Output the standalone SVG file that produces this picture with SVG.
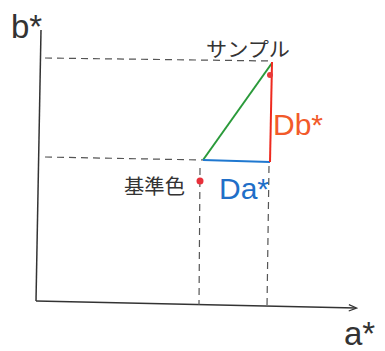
<svg xmlns="http://www.w3.org/2000/svg" width="385" height="351" viewBox="0 0 385 351">
<style>
.axis{stroke:#333;stroke-width:1.5;fill:none}
.dash{stroke:#555;stroke-width:1.2;stroke-dasharray:7,5;fill:none}
.lbl{font-family:"Liberation Sans","Noto Sans CJK JP",sans-serif;fill:#333}
.jp{font-family:"Noto Sans CJK JP",sans-serif;fill:#333}
</style>
<defs>
<marker id="arr" viewBox="0 0 10 10" refX="9" refY="5" markerWidth="10" markerHeight="8" orient="auto" markerUnits="userSpaceOnUse">
<path d="M0,1 L10,5 L0,9" fill="none" stroke="#333" stroke-width="1.5"/>
</marker>
</defs>
<rect width="385" height="351" fill="#fff"/>
<g id="connectors">
<path class="axis" d="M41,30 L36,301"/>
<path class="axis" d="M36,301 L356,308" marker-end="url(#arr)"/>
<path class="dash" d="M45,58 L272,61"/>
<path class="dash" d="M45,157 L203,160"/>
<path class="dash" d="M200,168 L199,305"/>
<path class="dash" d="M269,166 L267,307"/>
<path d="M203,160 L272,63" stroke="#2a9a3a" stroke-width="2" fill="none"/>
<path d="M203,160 L270,162" stroke="#1f78d0" stroke-width="2" fill="none"/>
<path d="M272,62 L270,162" stroke="#ee2a1f" stroke-width="2" fill="none"/>
</g>
<g id="sample">
<circle cx="270" cy="75" r="3" fill="#e83a3a"/>
<text class="jp" x="206" y="57" font-size="20" textLength="84" lengthAdjust="spacingAndGlyphs">サンプル</text>
</g>
<g id="reference">
<circle cx="200" cy="181" r="3.5" fill="#e8303a"/>
<text class="jp" x="124" y="194" font-size="20" textLength="61" lengthAdjust="spacingAndGlyphs">基準色</text>
</g>
<g id="labels">
<text class="lbl" x="11" y="38" font-size="33">b*</text>
<text class="lbl" x="344" y="345" font-size="33">a*</text>
<text x="273" y="135" font-size="30" font-family="Liberation Sans,sans-serif" fill="#f25a2a">Db*</text>
<text x="219" y="199" font-size="30" font-family="Liberation Sans,sans-serif" fill="#1f6fc8">Da*</text>
</g>
</svg>
